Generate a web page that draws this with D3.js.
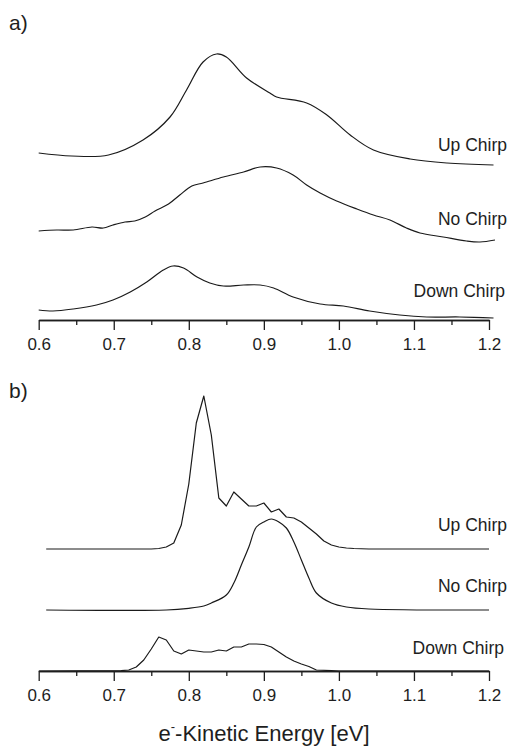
<!DOCTYPE html>
<html>
<head>
<meta charset="utf-8">
<script src="https://cdn.jsdelivr.net/npm/d3@7"></script>
<style>
  body { margin: 0; background: #fff; }
  svg text { font-family: "Liberation Sans", Arial, Helvetica, sans-serif; fill: #1e1e1e; }
</style>
</head>
<body>
<svg id="chart" width="509" height="748"></svg>
<script>
/*global d3*/

// tick values shared by both panels
var majorTicks = [0.6, 0.7, 0.8, 0.9, 1.0, 1.1, 1.2];
var minorTicks = [0.65, 0.75, 0.85, 0.95, 1.05, 1.15];
var seriesNames = ["Up Chirp", "No Chirp", "Down Chirp"];

// panel a) - measured spectra (intensity, arb. units, above each trace's offset)
var energyUpA = [0.600, 0.644, 0.693, 0.739, 0.775, 0.797, 0.819, 0.837, 0.850, 0.877,
  0.908, 0.917, 0.957, 0.984, 1.015, 1.046, 1.095, 1.144, 1.206];
var intensUpA = [0.12, 0.09, 0.10, 0.25, 0.48, 0.75, 1.03, 1.11, 1.08, 0.87,
  0.72, 0.68, 0.62, 0.50, 0.30, 0.15, 0.06, 0.02, 0.00];

var energyNoA = [0.600, 0.624, 0.646, 0.671, 0.686, 0.699, 0.715, 0.728, 0.742, 0.755,
  0.773, 0.788, 0.804, 0.819, 0.846, 0.873, 0.895, 0.917, 0.939, 0.957, 0.975, 0.997,
  1.024, 1.046, 1.068, 1.090, 1.108, 1.139, 1.170, 1.188, 1.208];
var intensNoA = [0.11, 0.12, 0.12, 0.15, 0.14, 0.17, 0.20, 0.21, 0.25, 0.31,
  0.38, 0.47, 0.56, 0.59, 0.65, 0.70, 0.75, 0.74, 0.67, 0.57, 0.49, 0.41,
  0.33, 0.27, 0.22, 0.14, 0.09, 0.05, 0.01, 0.00, 0.02];

var energyDownA = [0.600, 0.619, 0.646, 0.677, 0.699, 0.722, 0.744, 0.766, 0.779, 0.793,
  0.811, 0.828, 0.846, 0.873, 0.895, 0.913, 0.939, 0.975, 1.006, 1.041, 1.081, 1.117,
  1.161, 1.206];
var intensDownA = [0.10, 0.09, 0.11, 0.15, 0.20, 0.28, 0.38, 0.50, 0.54, 0.52,
  0.43, 0.37, 0.34, 0.35, 0.35, 0.32, 0.23, 0.16, 0.14, 0.09, 0.05, 0.03,
  0.03, 0.02];

var offsetsA = [1.55, 0.78, 0.0];

// panel b) - calculated spectra
var energyUpB = [0.61, 0.75, 0.76, 0.77, 0.78, 0.79, 0.80, 0.81, 0.82, 0.83, 0.84, 0.85,
  0.86, 0.87, 0.88, 0.89, 0.90, 0.91, 0.92, 0.93, 0.94, 0.95, 0.96, 0.97, 0.98, 0.99,
  1.00, 1.01, 1.02, 1.04, 1.20];
var intensUpB = [0, 0, 0.005, 0.02, 0.06, 0.24, 0.65, 1.26, 1.53, 1.14, 0.51, 0.43,
  0.57, 0.50, 0.43, 0.43, 0.46, 0.37, 0.40, 0.32, 0.31, 0.27, 0.21, 0.15, 0.08, 0.04,
  0.02, 0.01, 0.005, 0, 0];

var energyNoB = [0.61, 0.77, 0.80, 0.82, 0.83, 0.85, 0.86, 0.87, 0.88, 0.89, 0.90, 0.91,
  0.92, 0.93, 0.94, 0.95, 0.96, 0.97, 0.99, 1.01, 1.04, 1.20];
var intensNoB = [0, 0, 0.017, 0.04, 0.07, 0.15, 0.27, 0.45, 0.63, 0.83, 0.88, 0.91,
  0.88, 0.82, 0.68, 0.50, 0.32, 0.17, 0.07, 0.03, 0.01, 0];

var energyDownB = [0.60, 0.71, 0.72, 0.73, 0.74, 0.75, 0.76, 0.77, 0.78, 0.79, 0.80, 0.81,
  0.82, 0.83, 0.84, 0.85, 0.86, 0.87, 0.88, 0.89, 0.90, 0.91, 0.92, 0.93, 0.94, 0.95,
  0.96, 0.97, 0.99, 1.00, 1.20];
var intensDownB = [0, 0.003, 0.01, 0.04, 0.11, 0.22, 0.34, 0.31, 0.20, 0.17, 0.21, 0.20,
  0.19, 0.19, 0.21, 0.20, 0.24, 0.24, 0.27, 0.27, 0.265, 0.24, 0.19, 0.14, 0.10, 0.07,
  0.045, 0.01, 0.003, 0, 0];

var offsetsB = [1.22, 0.61, 0.0];

(function () {
  "use strict";

  var svg = d3.select("#chart"),
    x = d3.scaleLinear().domain([0.6, 1.2]).range([38.7, 489]),

    zip = function (es, is, off) {
      return es.map(function (e, i) {
        return {e: e, v: is[i] + off};
      });
    },

    drawAxis = function (g) {
      g.call(d3.axisBottom(x)
        .tickValues(majorTicks)
        .tickSize(10)
        .tickSizeOuter(0)
        .tickPadding(8.4)
        .tickFormat(d3.format(".1f")));
      g.append("g").call(d3.axisBottom(x)
        .tickValues(minorTicks)
        .tickSize(5)
        .tickSizeOuter(0)
        .tickFormat(""));
      g.selectAll("path, line")
        .attr("stroke", "#1e1e1e")
        .attr("stroke-width", 1.3);
      g.selectAll(".tick text")
        .attr("font-size", "17px")
        .attr("font-family", "Liberation Sans, Arial, sans-serif")
        .attr("fill", "#1e1e1e");
    },

    drawPanel = function (cfg) {
      var y = d3.scaleLinear().domain(cfg.domain).range([cfg.axisY, cfg.top]),
        g = svg.append("g");

      cfg.series.forEach(function (s) {
        var line = d3.line()
          .x(function (d) { return x(d.e); })
          .y(function (d) { return y(d.v); })
          .curve(s.curve);
        g.append("path")
          .datum(s.data)
          .attr("d", line)
          .attr("fill", "none")
          .attr("stroke", "#1a1a1a")
          .attr("stroke-width", 1.2)
          .attr("stroke-linejoin", "round");
      });

      cfg.labelY.forEach(function (ly, i) {
        g.append("text")
          .attr("x", cfg.labelX[i])
          .attr("y", ly)
          .attr("text-anchor", "end")
          .attr("font-size", "17.5px")
          .text(seriesNames[i]);
      });

      g.append("g")
        .attr("transform", "translate(0," + cfg.axisY + ")")
        .call(drawAxis);

      g.append("text")
        .attr("x", 9)
        .attr("y", cfg.tagY)
        .attr("font-size", "21px")
        .text(cfg.tag);
    },

    smooth = d3.curveCatmullRom.alpha(0.5);

  drawPanel({
    tag: "a)",
    tagY: 30,
    axisY: 320,
    top: 50,
    domain: [0, 2.7],
    labelX: [507, 507, 505],
    labelY: [150.5, 225, 297],
    series: [
      {data: zip(energyUpA, intensUpA, offsetsA[0]), curve: smooth},
      {data: zip(energyNoA, intensNoA, offsetsA[1]), curve: smooth},
      {data: zip(energyDownA, intensDownA, offsetsA[2]), curve: smooth}
    ]
  });

  drawPanel({
    tag: "b)",
    tagY: 398,
    axisY: 671,
    top: 391,
    domain: [0, 2.8],
    labelX: [507, 507, 504],
    labelY: [530.5, 591.5, 654],
    series: [
      {data: zip(energyUpB, intensUpB, offsetsB[0]), curve: d3.curveLinear},
      {data: zip(energyNoB, intensNoB, offsetsB[1]), curve: smooth},
      {data: zip(energyDownB, intensDownB, offsetsB[2]), curve: d3.curveLinear}
    ]
  });

  // x axis title with superscript minus on the electron
  var title = svg.append("text")
    .attr("x", 264)
    .attr("y", 741)
    .attr("text-anchor", "middle")
    .attr("font-size", "22px");
  title.append("tspan").text("e");
  title.append("tspan")
    .attr("font-size", "13px")
    .attr("dy", -10)
    .text("-");
  title.append("tspan")
    .attr("dy", 10)
    .text("-Kinetic Energy [eV]");
}());
</script>
</body>
</html>
